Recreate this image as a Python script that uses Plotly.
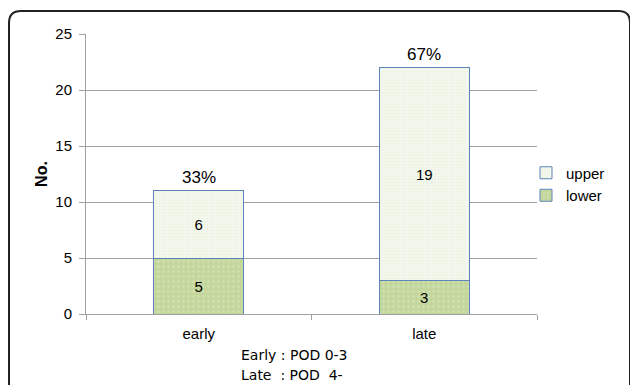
import plotly.graph_objects as go

categories = ["early", "late"]
lower = [5, 3]
upper = [6, 19]
pct_labels = ["33%", "67%"]
y_ticks = [0, 5, 10, 15, 20, 25]

fig = go.Figure()
fig.add_trace(go.Bar(
    x=categories, y=lower, name="lower",
    text=[str(v) for v in lower], textposition="inside", insidetextanchor="middle",
    textfont=dict(size=15, color="black", family="Liberation Sans, Arial"),
    marker=dict(color="#c3d69b", line=dict(color="#5b84b8", width=1),
                pattern=dict(shape=".", fgcolor="#dde8c6", size=5, solidity=0.25)),
    width=0.4,
))
fig.add_trace(go.Bar(
    x=categories, y=upper, name="upper",
    text=[str(v) for v in upper], textposition="inside", insidetextanchor="middle",
    textfont=dict(size=15, color="black", family="Liberation Sans, Arial"),
    marker=dict(color="#f5f8ee", line=dict(color="#5b84b8", width=1),
                pattern=dict(shape=".", fgcolor="#e2eacf", size=3, solidity=0.3)),
    width=0.4,
))

totals = [a + b for a, b in zip(lower, upper)]
for c, t, p in zip(categories, totals, pct_labels):
    fig.add_annotation(x=c, y=t, text=p, showarrow=False, yanchor="bottom", yshift=2,
                       font=dict(size=17, color="black", family="Liberation Sans, Arial"))

fig.add_annotation(xref="paper", yref="paper", x=(239 - 86) / 451, y=-(355 - 314) / 280,
                   text="Early\u00a0:\u00a0POD\u00a00-3", showarrow=False, xanchor="left", yanchor="middle",
                   font=dict(size=14, color="black", family="DejaVu Sans"))
fig.add_annotation(xref="paper", yref="paper", x=(239 - 86) / 451, y=-(375 - 314) / 280,
                   text="Late\u00a0\u00a0:\u00a0POD\u00a0\u00a04-", showarrow=False, xanchor="left", yanchor="middle",
                   font=dict(size=14, color="black", family="DejaVu Sans"))

# rounded frame
fig.add_shape(type="path", xref="paper", yref="paper",
              path="M {x0},{yb} L {x0},{yt1} Q {x0},{yt} {x1},{yt} L {x2},{yt} Q {x3},{yt} {x3},{yt1} L {x3},{yb}".format(
                  x0=(9 - 86) / 451, x1=(21 - 86) / 451, x2=(619 - 86) / 451, x3=(630 - 86) / 451,
                  yt=(314 - 11) / 280, yt1=(314 - 23) / 280, yb=-(400 - 314) / 280),
              line=dict(color="#222222", width=2))

fig.update_layout(
    width=630, height=385,
    margin=dict(l=86, r=93, t=34, b=71, autoexpand=False),
    paper_bgcolor="white", plot_bgcolor="white",
    barmode="stack",
    showlegend=True,
    legend=dict(x=(526 - 86) / 451, y=(314 - 184) / 280, xanchor="left", yanchor="middle", traceorder="reversed",
                font=dict(size=15, color="black", family="Liberation Sans, Arial"),
                tracegroupgap=0, bgcolor="rgba(0,0,0,0)"),
    font=dict(family="Liberation Sans, Arial", color="black"),
)
fig.update_xaxes(
    range=[-0.5, 1.5], showline=True, linecolor="#a0a0a0", linewidth=1,
    ticks="outside", tickson="boundaries", ticklen=5, tickcolor="#a0a0a0",
    tickfont=dict(size=15, color="black"), showgrid=False, ticklabelstandoff=6,
)
fig.update_yaxes(
    range=[0, 25], tickvals=y_ticks, showline=True, linecolor="#a0a0a0", linewidth=1,
    ticks="outside", ticklen=6, tickcolor="#a0a0a0", gridcolor="#a0a0a0", gridwidth=1,
    tickfont=dict(size=15, color="black"), zeroline=False, ticklabelstandoff=4,
    title=dict(text="<b>No.</b>", font=dict(size=16, color="black"), standoff=3),
)

fig.write_html("out.html", config={"displayModeBar": False},
               post_script="document.body.style.margin='0';document.body.style.overflow='hidden';")
